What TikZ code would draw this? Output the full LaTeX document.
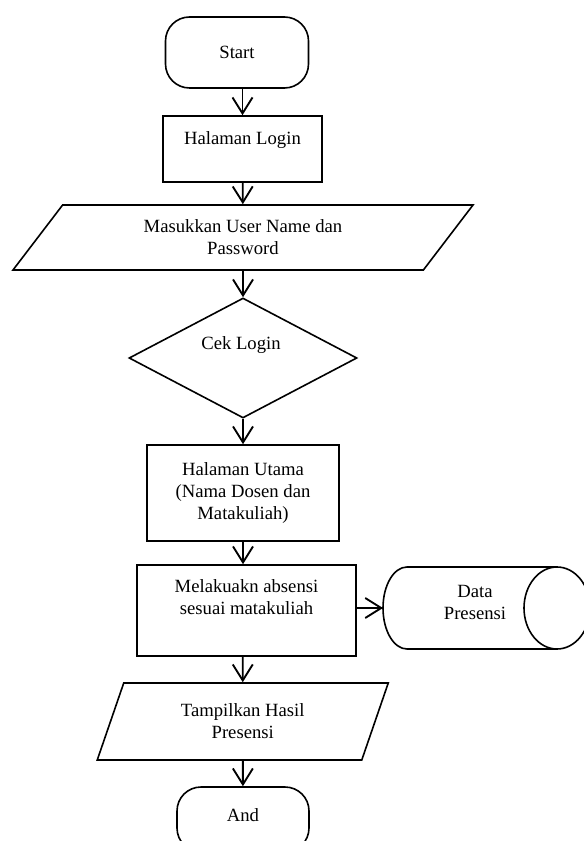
\documentclass[tikz,border=0pt]{standalone}
\usepackage{fontspec}
\setmainfont{Liberation Serif}
\usetikzlibrary{shapes.geometric,arrows.meta}
\begin{document}
\begin{tikzpicture}[x=0.75pt,y=-0.75pt,
    every node/.style={font=\fontsize{14}{16.5}\selectfont,align=center,inner sep=0pt},
    term/.style={draw,line width=1.2pt,rounded corners=18pt,minimum width=#1},
    box/.style={draw,line width=1.2pt,rectangle},
    io/.style={draw,line width=1.2pt,trapezium,trapezium stretches body},
    arr/.style={line width=1.4pt,-{Straight Barb[length=12pt,width=15pt,line width=1.4pt]}}]
        \useasboundingbox (0,0) rectangle (584,841);
        %% Start and end
        \node[term=107.25pt,minimum height=53.25pt,anchor=center] (start) at (237,52.5) {Start};
        \node[term=99pt,minimum height=48.75pt,anchor=center] (stop) at (243,819.5) {};
        \node (stop-t) at (243,815) {And};
        %% Login
        \node[box,minimum width=119.25pt,minimum height=49.5pt,anchor=center] (login) at (242.5,149) {};
        \node (login-t) at (242.5,140) {Halaman Login};
        \node[io,trapezium left angle=35.3,trapezium right angle=144.7,minimum width=345pt,minimum height=48.75pt,anchor=center] (input) at (243,237.5) {Masukkan User Name dan\\Password};
        \node[draw,line width=1.2pt,diamond,minimum width=171pt,minimum height=90pt,anchor=center] (cek) at (243,358) {};
        \node (cek-t) at (241,345) {Cek Login};
        %% Main page and attendance
        \node[box,minimum width=144pt,minimum height=72pt,anchor=center] (utama) at (243,493) {Halaman Utama\\(Nama Dosen dan\\Matakuliah)};
        \node[box,minimum width=164.25pt,minimum height=68.25pt,anchor=center] (absen) at (246.5,610.5) {};
        \node (absen-t) at (246.5,597.5) {Melakuakn absensi\\sesuai matakuliah};
        \node[io,trapezium left angle=53,trapezium right angle=127,minimum width=218.25pt,minimum height=57.75pt,anchor=center] (hasil) at (242.75,721.5) {Tampilkan Hasil\\Presensi};
        %% Stored data
        \draw[line width=1.2pt] (407,567) -- (557,567) (407,649) -- (557,649);
        \draw[line width=1.2pt] (407,567) arc[start angle=90,end angle=270,x radius=18pt,y radius=30.75pt];
        \draw[line width=1.2pt] (557,608) ellipse[x radius=24.75pt,y radius=30.75pt];
        \coordinate (data-in) at (383,608);
        \node (data) at (475,602) {Data\\Presensi};
        %% Arrows
        \draw[arr] (start.south -| login) -- (login);
        \draw[arr] (login) -- (input);
        \draw[arr] (input) -- (cek);
        \draw[arr] (cek) -- (utama);
        \draw[arr] (utama) -- (utama |- absen.north);
        \draw[arr] (absen.east |- data-in) -- (data-in);
        \draw[arr] (absen.south -| hasil) -- (hasil);
        \draw[arr] (hasil) -- (stop);
    \end{tikzpicture}
\end{document}
